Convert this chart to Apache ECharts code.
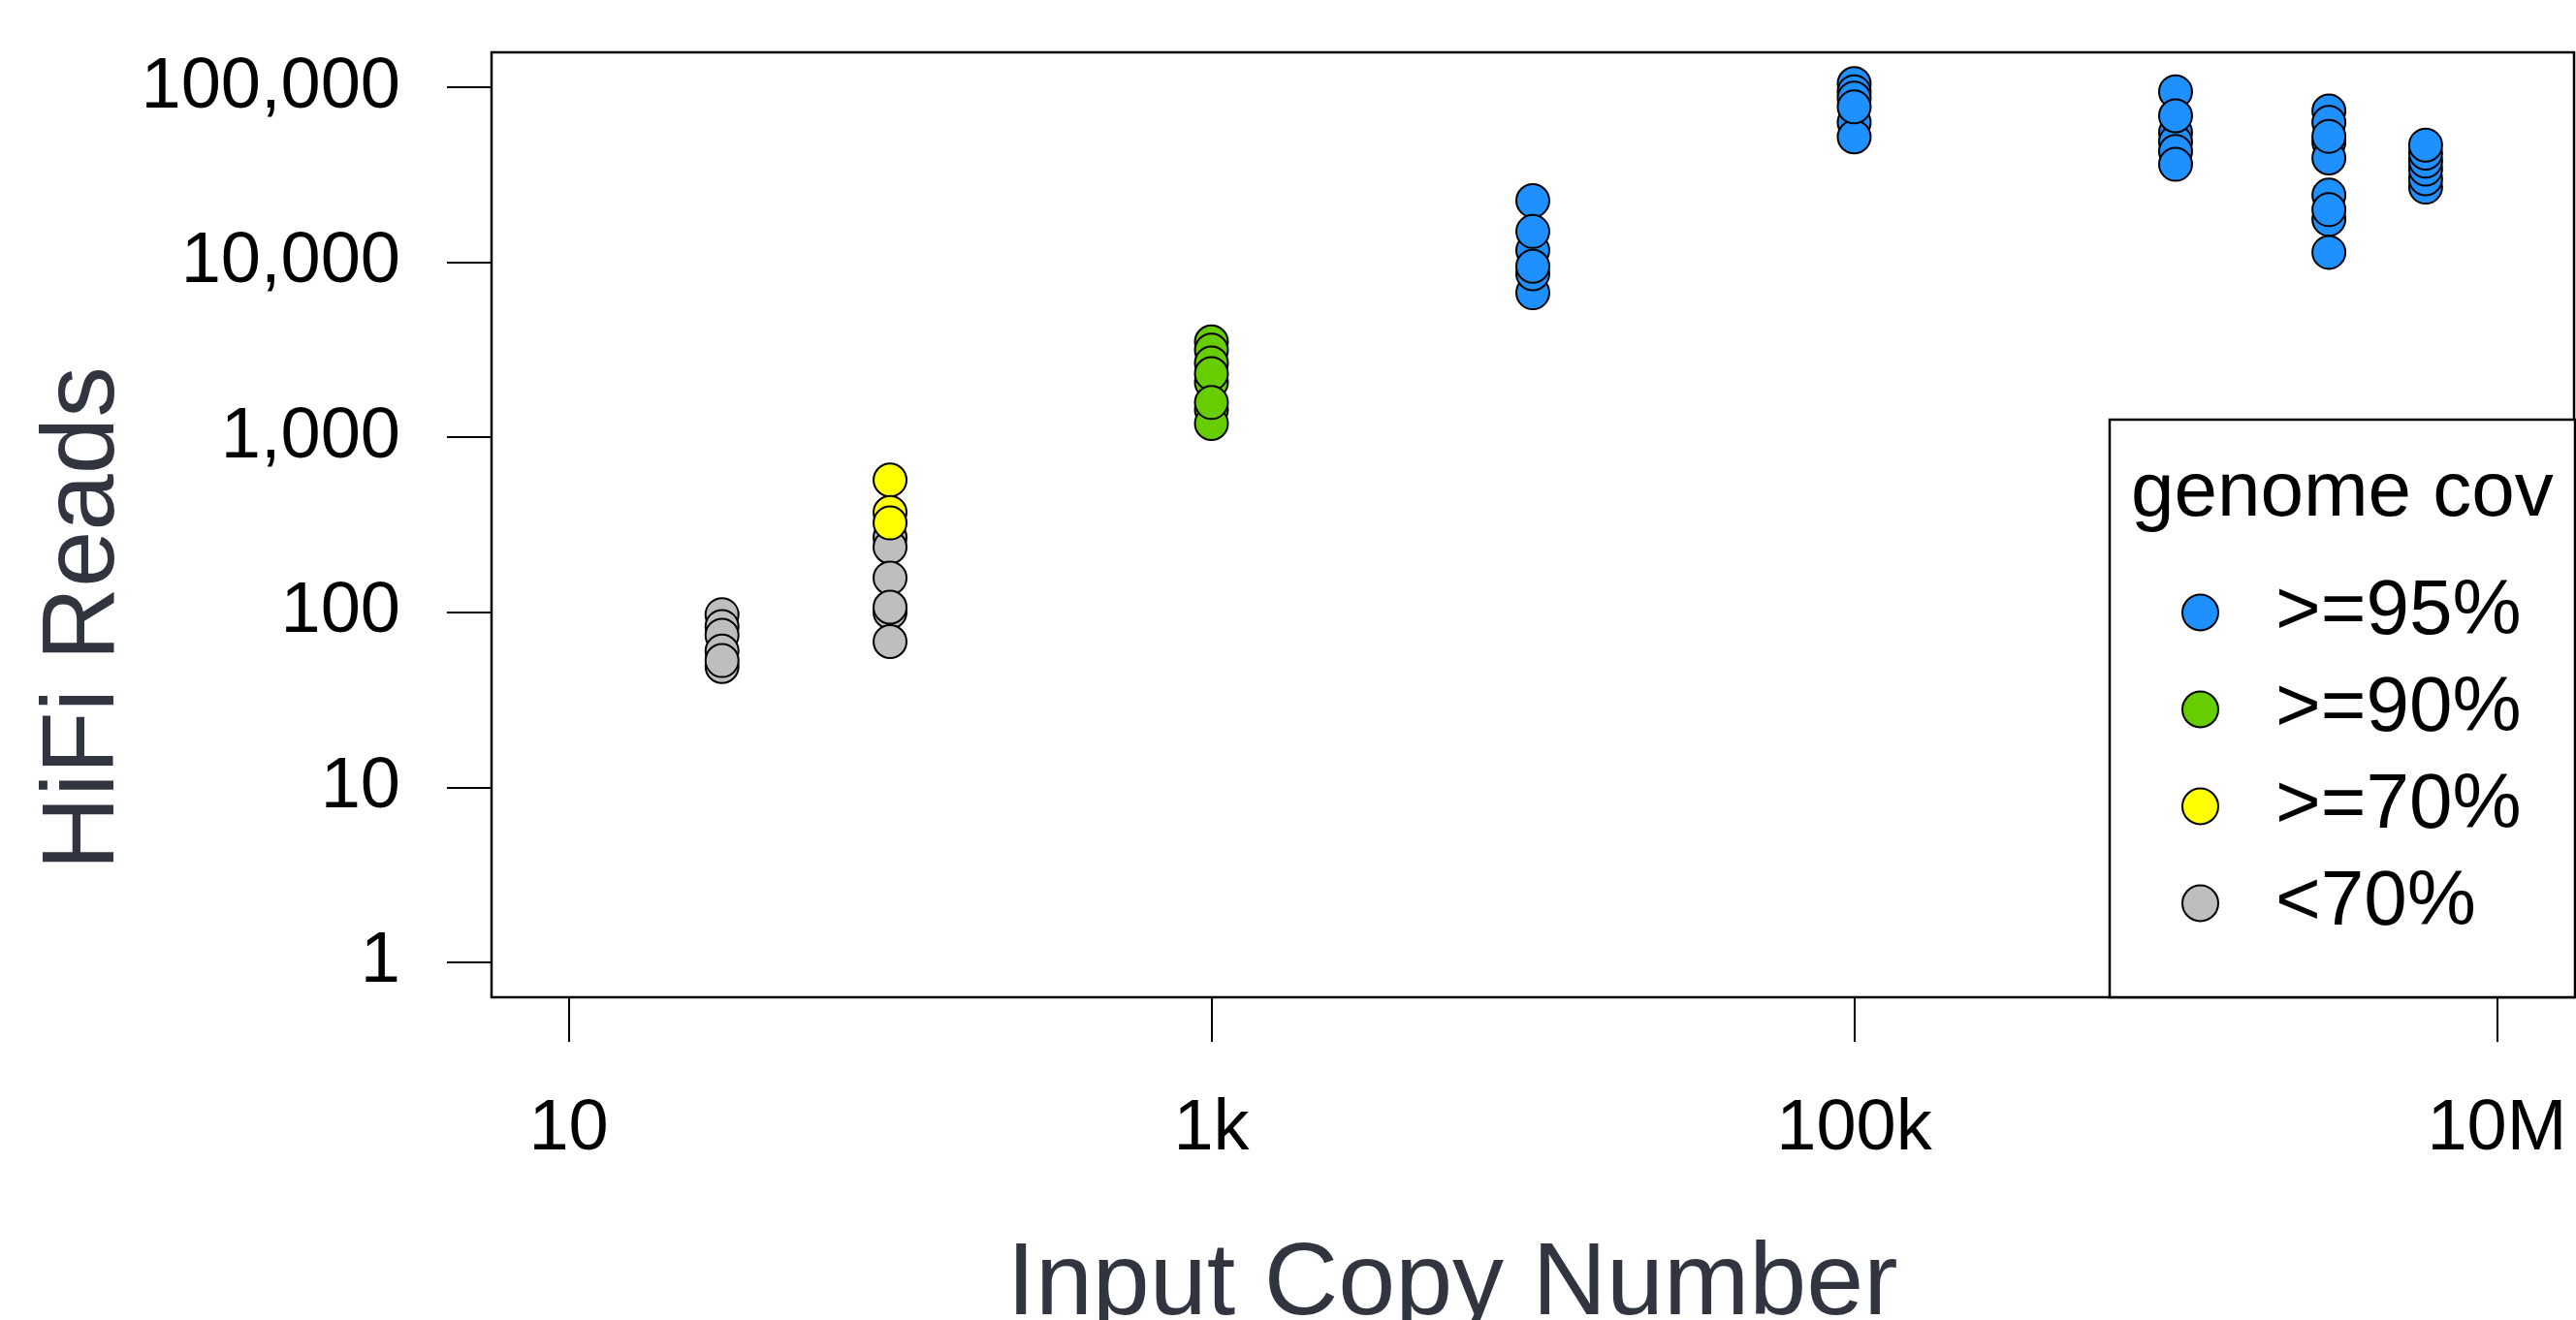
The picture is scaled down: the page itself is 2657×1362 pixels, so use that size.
<!DOCTYPE html>
<html>
<head>
<meta charset="utf-8">
<script src="https://cdn.jsdelivr.net/npm/echarts@6/dist/echarts.min.js"></script>
<style>
html,body{margin:0;padding:0;background:#fff;}
#chart{width:2657px;height:1362px;}
</style>
</head>
<body>
<div id="chart"></div>
<script>
// ---- data ----
const xTickValues = [10, 1000, 100000, 10000000];
const xTickLabels = ['10', '1k', '100k', '10M'];
const yTickValues = [1, 10, 100, 1000, 10000, 100000];
const yTickLabels = ['1', '10', '100', '1,000', '10,000', '100,000'];

const legendNames = ['>=95%', '>=90%', '>=70%', '<70%'];

// >=95% genome coverage
const cov95_copies = [10000, 10000, 10000, 10000, 10000, 10000,
  100000, 100000, 100000, 100000, 100000, 100000,
  1000000, 1000000, 1000000, 1000000, 1000000, 1000000,
  3000000, 3000000, 3000000, 3000000, 3000000, 3000000, 3000000, 3000000, 3000000,
  6000000, 6000000, 6000000, 6000000, 6000000, 6000000];
const cov95_reads = [6700, 8600, 11700, 22500, 15000, 9500,
  105000, 94400, 86700, 63000, 52100, 77300,
  94400, 55100, 48900, 43000, 36300, 68700,
  73200, 63000, 48500, 39500, 52500, 24200, 17600, 11400, 20000,
  26900, 30000, 34100, 37900, 42100, 46800];

// >=90%
const cov90_copies = [1000, 1000, 1000, 1000, 1000, 1000, 1000, 1000];
const cov90_reads = [3510, 3150, 2660, 2060, 1440, 1200, 2310, 1580];

// >=70%
const cov70_copies = [100, 100, 100];
const cov70_reads = [570, 372, 324];

// <70%
const covLow_copies = [30, 30, 30, 30, 30, 30, 100, 100, 100, 100, 100, 100];
const covLow_reads = [97, 83, 74, 60, 49, 53, 268, 236, 157, 100, 68, 107];

const colors = {'>=95%': '#1E90FF', '>=90%': '#66CD00', '>=70%': '#FFFF00', '<70%': '#BEBEBE'};

function pairs(xs, ys) { return xs.map((x, i) => [x, ys[i]]); }

const FONT = '"Liberation Sans", Arial, sans-serif';

function mkSeries(name, xs, ys) {
  return {
    name: name,
    type: 'scatter',
    data: pairs(xs, ys),
    symbol: 'circle',
    symbolSize: 34,
    itemStyle: {color: colors[name], borderColor: '#000', borderWidth: 2, opacity: 1},
    emphasis: {disabled: true},
    z: 3
  };
}

const chart = echarts.init(document.getElementById('chart'), null, {renderer: 'canvas'});

chart.setOption({
  animation: false,
  backgroundColor: '#fff',
  grid: {left: 507, right: 2, top: 54, bottom: 333, show: true, borderColor: '#000', borderWidth: 2.5, backgroundColor: 'transparent'},
  xAxis: {
    type: 'log', logBase: 10,
    min: Math.pow(10, 0.76), max: Math.pow(10, 7.24),
    axisLine: {show: false},
    splitLine: {show: false},
    minorTick: {show: false},
    axisTick: {show: true, length: 46, inside: false, lineStyle: {color: '#000', width: 2}, customValues: xTickValues},
    axisLabel: {
      customValues: xTickValues,
      fontSize: 74, fontFamily: FONT, color: '#000', margin: 100,
      formatter: function (v) { return xTickLabels[xTickValues.indexOf(Math.pow(10, Math.round(Math.log10(v))))]; }
    }
  },
  yAxis: {
    type: 'log', logBase: 10,
    min: Math.pow(10, -0.2), max: Math.pow(10, 5.2),
    axisLine: {show: false},
    splitLine: {show: false},
    minorTick: {show: false},
    axisTick: {show: true, length: 46, inside: false, lineStyle: {color: '#000', width: 2}, customValues: yTickValues},
    axisLabel: {
      customValues: yTickValues,
      fontSize: 74, fontFamily: FONT, color: '#000', margin: 94,
      formatter: function (v) { return yTickLabels[yTickValues.indexOf(Math.pow(10, Math.round(Math.log10(v))))]; }
    }
  },
  legend: {
    orient: 'vertical',
    left: 2250, top: 592,
    padding: 0,
    itemWidth: 37, itemHeight: 37, itemGap: 20,
    icon: 'circle',
    selectedMode: false,
    data: legendNames,
    textStyle: {fontSize: 80, lineHeight: 80, color: '#000', fontFamily: FONT, padding: [0, 0, 0, 54]},
    z: 5
  },
  graphic: [
    {type: 'rect', z: 1, shape: {x: 2176, y: 433, width: 480, height: 596},
      style: {fill: '#fff', stroke: '#000', lineWidth: 2.5}},
    {type: 'text', z: 6, x: 2198, y: 510,
      style: {text: 'genome cov', fontSize: 80, fontFamily: FONT, fill: '#000', align: 'left', verticalAlign: 'middle'}},
    {type: 'text', z: 6, x: 88, y: 638, rotation: Math.PI / 2,
      style: {text: 'HiFi Reads', fontSize: 105, fontFamily: FONT, fill: '#31353f', align: 'center', verticalAlign: 'middle'}},
    {type: 'text', z: 6, x: 1498, y: 1327,
      style: {text: 'Input Copy Number', fontSize: 106, fontFamily: FONT, fill: '#31353f', align: 'center', verticalAlign: 'middle'}}
  ],
  series: [
    mkSeries('>=95%', cov95_copies, cov95_reads),
    mkSeries('>=90%', cov90_copies, cov90_reads),
    mkSeries('<70%', covLow_copies, covLow_reads),
    mkSeries('>=70%', cov70_copies, cov70_reads)
  ]
});
</script>
</body>
</html>
